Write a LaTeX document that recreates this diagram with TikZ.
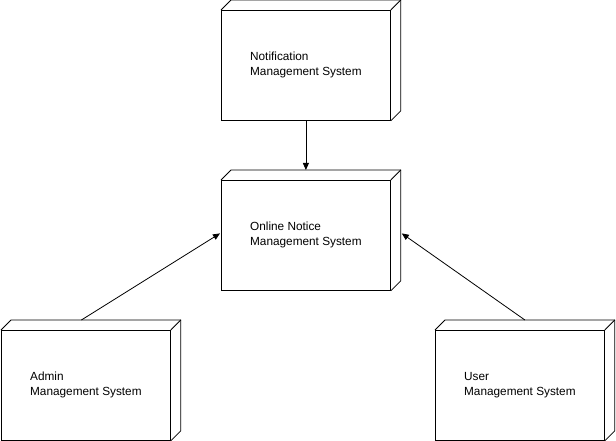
\documentclass[tikz,border=0pt]{standalone}
\usepackage{fontspec}
\setmainfont{Liberation Sans}
\usetikzlibrary{arrows.meta,calc}
\begin{document}
\begin{tikzpicture}[x=1pt,y=-1pt,
  box/.style={draw, line width=0.8pt, minimum width=169pt, minimum height=110pt, align=left,
    font=\fontsize{11.8}{15}\selectfont, inner sep=0pt, anchor=north west},
  depth/.style={line width=0.8pt},
  arr/.style={-{Triangle[length=7pt,width=6pt]}, line width=0.8pt}]
\useasboundingbox (0,0) rectangle (616,441);
\node[box] (notif) at (221,10) {Notification\\Management System};
\node[box] (online) at (221,180) {Online Notice\\Management System};
\node[box] (admin) at (1,330) {Admin\\Management System};
\node[box] (user) at (435,330) {User\\Management System};
\foreach \n in {notif,online,admin,user}{
  \draw[depth] (\n.north west) -- ++(10,-10) -- ($(\n.north east)+(10,-10)$) -- ($(\n.south east)+(10,-10)$) -- (\n.south east);
  \draw[depth] (\n.north east) -- ++(10,-10);
}
\coordinate (adminTop) at ($(admin.north)+(-4.5,-10)$);
\coordinate (userTop) at ($(user.north)+(5,-10)$);
\coordinate (onlineR) at ($(online.east)+(11,-2)$);
\coordinate (onlineTop) at ($(online.north)+(0,-10)$);
\draw[arr] (notif.south) -- (onlineTop);
\draw[arr] (adminTop) -- ($(online.west)+(-1,-2)$);
\draw[arr] (userTop) -- (onlineR);
\end{tikzpicture}
\end{document}
